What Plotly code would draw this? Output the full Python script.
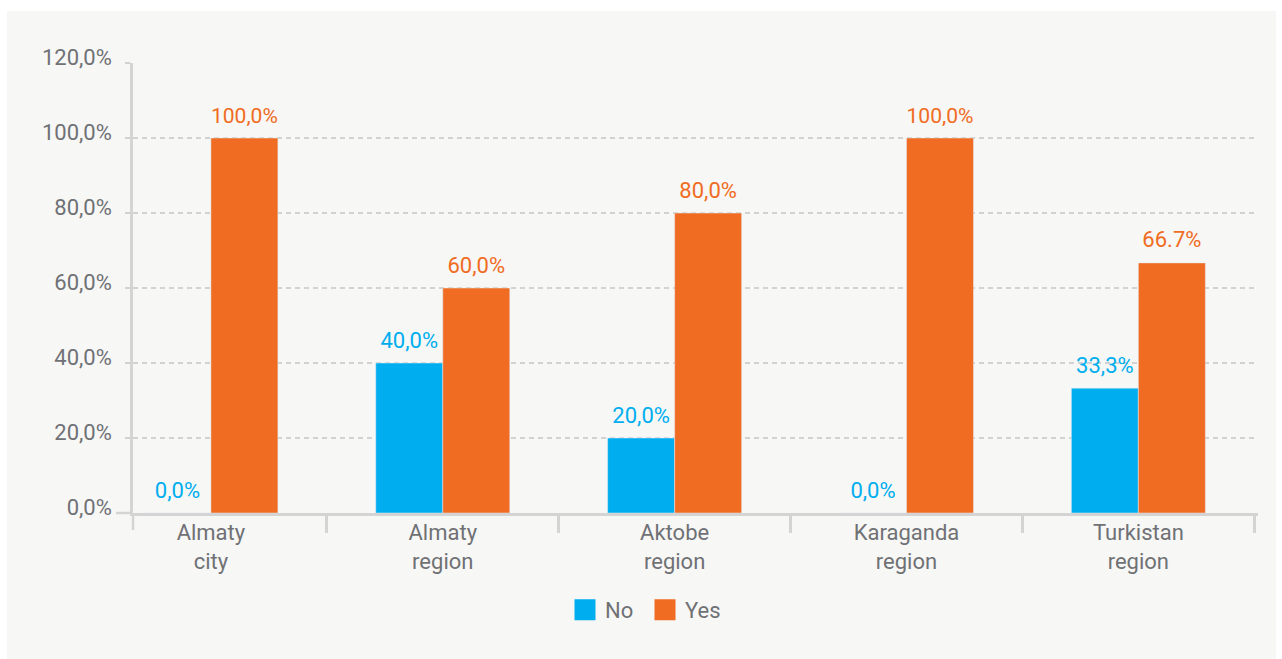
import plotly.graph_objects as go

# Survey shares by region
categories = ["Almaty<br>city", "Almaty<br>region", "Aktobe<br>region", "Karaganda<br>region", "Turkistan<br>region"]
no_values = [0.0, 40.0, 20.0, 0.0, 33.3]
yes_values = [100.0, 60.0, 80.0, 100.0, 66.7]
no_labels = ["0,0%", "40,0%", "20,0%", "0,0%", "33,3%"]
yes_labels = ["100,0%", "60,0%", "80,0%", "100,0%", "66.7%"]
y_ticks = [0, 20, 40, 60, 80, 100, 120]
y_tick_labels = ["0,0%", "20,0%", "40,0%", "60,0%", "80,0%", "100,0%", "120,0%"]

BLUE = "#00aeef"
ORANGE = "#f06c23"
GRID = "#d2d2d2"
AXIS = "#d4d4d4"
TEXT = "#6f7175"
FONT = "Roboto"

W, H = 1282, 659
ML, MR, MT, MB = 133, 24, 63, 146
PW, PH = W - ML - MR, H - MT - MB

# value label at full size, followed by a small invisible line that lifts it off the bar top
LABEL_TEMPLATE = ("<span style='font-size:22px'>%{text}</span>"
                  "<br><span style='color:rgba(0,0,0,0)'>.</span>")


def px_x(px):
    return (px - ML) / PW


def px_y(py):
    return (H - MB - py) / PH


fig = go.Figure()

fig.add_trace(go.Bar(
    x=categories, y=no_values, name="No", marker_color=BLUE,
    text=no_labels, textposition="outside", texttemplate=LABEL_TEMPLATE,
    textfont=dict(color=BLUE, size=8, family=FONT),
    cliponaxis=False, showlegend=False,
))
fig.add_trace(go.Bar(
    x=categories, y=yes_values, name="Yes", marker_color=ORANGE,
    text=yes_labels, textposition="outside", texttemplate=LABEL_TEMPLATE,
    textfont=dict(color=ORANGE, size=8, family=FONT),
    cliponaxis=False, showlegend=False,
))

# legend entries with larger square swatches
for name, color in [("No", BLUE), ("Yes", ORANGE)]:
    fig.add_trace(go.Scatter(
        x=[None], y=[None], mode="markers", name=name,
        marker=dict(symbol="square", size=16, color=color,
                    line=dict(color=color, width=5)),
    ))

shapes = [
    # light panel behind the chart
    dict(type="rect", xref="paper", yref="paper",
         x0=px_x(7), x1=px_x(1276), y0=px_y(659), y1=px_y(11),
         fillcolor="#f7f7f5", line=dict(width=0), layer="below"),
    # y axis line running below the baseline
    dict(type="line", xref="paper", yref="paper",
         x0=0, x1=0, y0=px_y(530), y1=0,
         line=dict(color=AXIS, width=2.5)),
    # baseline extending left of the y axis
    dict(type="line", xref="paper", yref="paper",
         x0=px_x(116), x1=0, y0=0, y1=0,
         line=dict(color=AXIS, width=2.5)),
]

fig.update_layout(
    width=W, height=H,
    margin=dict(l=ML, r=MR, t=MT, b=MB),
    paper_bgcolor="white",
    plot_bgcolor="rgba(0,0,0,0)",
    barmode="group",
    bargap=0.422,
    bargroupgap=0,
    font=dict(family=FONT, color=TEXT, size=22),
    shapes=shapes,
    legend=dict(
        orientation="h", x=px_x(565), xanchor="left",
        y=px_y(610), yanchor="middle",
        font=dict(size=22, color=TEXT, family=FONT),
        bgcolor="rgba(0,0,0,0)", itemwidth=30,
        entrywidth=35, entrywidthmode="pixels",
    ),
    xaxis=dict(
        type="category",
        range=[-0.336, 4.516],
        showline=True, linecolor=AXIS, linewidth=2.5,
        ticks="outside", tickson="boundaries", ticklen=17,
        tickcolor=AXIS, tickwidth=2.5,
        ticklabelstandoff=-2,
        tickfont=dict(size=22, color=TEXT, family=FONT),
        showgrid=False, zeroline=False,
    ),
    yaxis=dict(
        range=[0, 120],
        tickvals=y_ticks, ticktext=y_tick_labels,
        showline=True, linecolor=AXIS, linewidth=2.5,
        ticks="outside", ticklen=5, tickcolor=GRID, tickwidth=1.5,
        showgrid=True, gridcolor=GRID, gridwidth=1.5, griddash="5px,4px",
        zeroline=False,
        ticklabelstandoff=9, ticklabelshift=-6,
        tickfont=dict(size=22, color=TEXT, family=FONT),
    ),
)

fig.write_html("out.html")
